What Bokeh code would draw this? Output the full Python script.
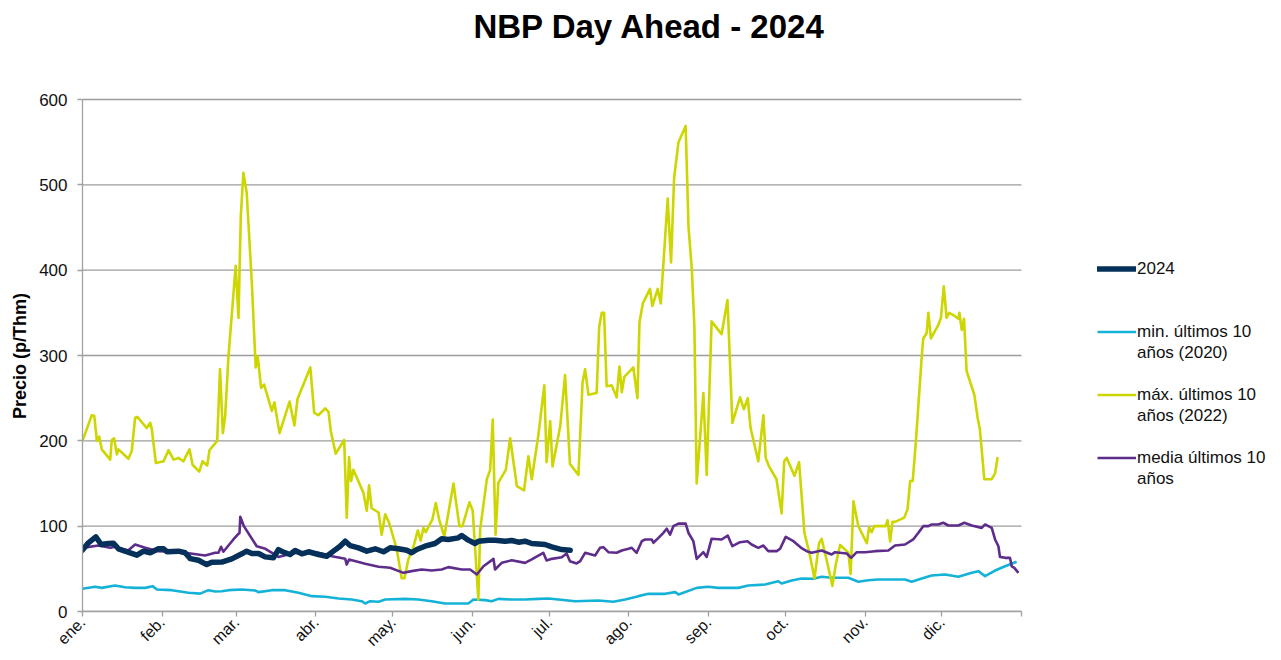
import math
from bokeh.plotting import figure
from bokeh.models import Range1d, FixedTicker, Legend, LegendItem, Label
from bokeh.embed import file_html
from bokeh.resources import INLINE

FONT = "Liberation Sans"

month_starts = [0, 31, 60, 91, 121, 152, 182, 213, 244, 274, 305, 335, 366]
month_labels = ["ene.", "feb.", "mar.", "abr.", "may.", "jun.", "jul.", "ago.", "sep.", "oct.", "nov.", "dic.", ""]
y_ticks = [0, 100, 200, 300, 400, 500, 600]
YEAR_DAYS = 366
Y_MAX = 600

# 2024
y2024_day = [0,2.3,5.2,7.3,10.1,12.1,14,18.6,21.2,23.8,26.4,29.6,31.6,32.9,37.4,40,42,45.2,48.4,50.4,54.3,58.2,62.1,64,66,68.6,71.2,74.4,76.4,78.3,80.9,82.9,85.5,88.1,92,95.2,97.8,100.4,102.4,104.3,107.6,110.8,114.1,117.3,119.9,123.1,126.4,128.3,130.3,133.5,137.4,140,142.6,146.5,147.8,150.4,153,154.3,158.2,160.8,164.7,167.3,169.9,172.5,175.1,180.3,182.9,186.8,190.1]
y2024_val = [72,80.5,87.5,78.5,79.7,80,73.5,68.8,66,70.7,68.8,73.5,73.5,70,70.7,68.8,62,60,55,57.8,58,61.7,67.6,70.7,68,68,64,62.9,72.6,69.5,66.8,71.5,67.6,70,66.8,64.8,70.7,76.5,82.4,77.3,74.6,70.7,73.5,70,74.6,73.5,71.8,68.8,72.6,76.5,79.7,85.2,84.4,86.3,89,83.6,79.7,82.4,83.6,83.6,82.4,83.2,81.2,82.4,79.7,78.5,75.8,72.6,71.8]

# min. ultimos 10 anos (2020)
min_day = [0,4.9,7.5,12.7,16.6,20.5,24.4,27.3,29,34.8,41.3,45.9,49.1,51.7,54.3,56.9,62.1,67.3,68.6,73.8,79,84.2,89.4,94.6,99.8,104.9,108.8,110.2,112.1,115.4,118,125.8,130.9,136.1,141.3,150.4,152.4,156.9,159.5,162.1,167.3,172.5,177.7,181.6,185.5,192,201.1,206.9,211.5,216.7,220.6,227.1,231,232.3,239.4,243.9,247.8,255.6,259.5,266,271.2,272.5,276.4,280.3,284.9,288.1,292,298.5,302.4,306.3,310.2,320.6,323.2,327.1,331,336.2,341.4,346.6,349.2,351.8,355.7,359.6,364.1]
min_val = [26.6,29,27.7,30.5,28.5,27.7,27.7,29.7,25.8,25,21.9,21,25,23.4,23.8,25,25.8,24.6,22.7,25,25,21.9,18,17.2,15.2,14,12.1,9.4,12.1,11.4,14,14.8,14,12.1,9.4,9.4,14,13.3,12.1,14.8,14,14,14.8,15.2,14,12.1,12.9,11.4,14,18,20.7,20.7,22.7,20,27.7,29,27.7,27.7,30.5,31.6,35.5,32.8,36.3,38.7,38.3,40.7,39.5,39.5,34.8,36.7,37.5,37.5,34.8,38.7,42.2,43.4,40.7,45.3,47.3,41.4,48,53,58.2]

# max. ultimos 10 anos (2022)
max_day = [0,3.6,4.6,5.6,6.5,7.5,10.8,11.4,12.3,13.4,14,17.9,19.2,20.5,21.4,25,26.4,27,28.6,31.6,33.5,35.5,37.4,39.4,40.3,41.7,42.9,45.5,46.8,48.6,49.5,52.5,53.6,54.7,55.6,56.9,59.7,60.8,61.7,62.7,64,66,67.5,68.3,69.6,70.8,73.8,74.8,76.8,80.7,82.6,83.8,88.8,90.3,91.9,94.6,95.9,96.8,98.7,102,103,103.9,104.7,105.6,109.5,110.8,111.7,112.7,115.4,116.6,118,119.5,122.5,124.4,125.5,127,129,130.7,131.8,132.9,133.8,136.4,137.7,139,141,144.6,146.9,148.1,150.8,152.1,154.3,155,157.6,158.9,159.9,161,162.1,165,166.7,169.3,172.1,173.8,175.1,177.7,180,180.9,182.3,183.2,186.2,188.1,190,193.3,194.9,195.9,197.2,200.4,201.4,202.4,203.3,204.3,206.3,208.2,209.3,210.2,211.2,214.7,216.3,217.1,218.4,221.2,222.1,224.2,225.4,228.1,229.4,230.6,232.3,235.1,236.2,237.5,238.5,239.4,242,243.3,245.2,249.1,251.4,253.3,256.3,257.8,259.3,260.4,263.4,265.4,266.3,267.6,270.5,272.5,273.5,274.5,277.5,279.3,281.4,283.3,285.3,287.1,288.1,290,292.3,293.6,295.3,298.5,299.4,300.5,302.4,305.7,306.6,307.6,308.6,313,313.8,314.8,315.7,316.7,320.3,321.6,322.6,323.6,324.8,327.1,327.7,329,329.7,330.7,333.6,334.6,335.7,336.8,337.8,340.1,341.4,341.8,342.7,343.6,344.6,347.6,348.9,349.8,351.5,354.4,355.7,356.7]
max_val = [200,230,229,200,205,190,178,201,203,184,190,179,188,227,228,215,221,214,174,176,189,178,180,176,182,190,172,164,176,171,189,200,284,209,229,299,405,344,463,514,491,385,286,299,262,266,235,245,209,246,218,249,286,233,230,238,234,211,185,201,110,181,153,166,139,118,148,121,116,90,114,104,73,39,39,61,76,95,83,98,93,108,127,108,88,150,100,100,128,118,14,96,155,166,225,90,151,166,203,147,142,182,155,207,265,175,223,170,217,277,173,160,268,284,254,256,334,350,350,264,265,251,287,257,275,286,250,339,361,378,358,378,361,484,409,508,550,569,451,401,334,150,256,160,340,325,365,221,251,237,250,215,176,230,180,170,155,115,176,180,159,175,92,69,39,80,85,61,30,55,78,69,44,129,100,80,99,93,100,100,107,82,105,105,110,120,153,153,198,298,320,326,350,320,336,344,381,344,350,346,343,350,330,343,282,254,227,213,155,155,162,181]

# media ultimos 10 anos
avg_day = [0,6.2,10.8,12.7,15.3,17.9,20.5,24.4,29.6,34.8,40,47.8,51.7,53,54,54.9,58.8,60.5,61.2,61.5,62.9,67.9,71.3,76.4,81.6,86.8,92,97.2,102.4,103,103.9,110.2,115.4,119.9,125.1,128.3,132.2,136.1,140,142.6,147.8,151.1,153.7,156.3,160.2,160.8,163.4,167.3,172.5,175.1,179.6,180.9,182.9,186.8,188.7,190,192.6,194,195.9,199.8,201.7,203,205,208.2,210.2,212.8,214.1,216,218,219.3,221.9,222.5,224.5,226.4,227.7,229,230.3,232.3,235.1,236.2,238.1,239.4,242,243.3,245.2,249.1,251.5,253.3,256.3,259.2,260.8,263.4,265.4,267.3,270.6,271.9,274.1,277.1,280.1,282.3,284.2,288.1,292,293.3,297.9,299.6,301.8,305,308.9,314.1,316.7,320.6,323.8,325.8,327.7,329.7,331,333.6,335.5,337.5,341.4,343.7,346.6,350.5,351.8,354.4,355.7,357,357.6,359.6,361.5,362.2,363.2,364.8]
avg_val = [74.6,77.3,74.6,75.8,72.6,71.8,78.5,74.6,70.7,70,68.8,65.6,68.8,68.8,75.8,70,84.4,90.2,92,111,100,76.5,73.5,64,68,69.5,68.8,64.8,61.7,55,61,55.9,52.4,51.2,45.3,47.3,49.2,48,49.2,52,49.2,49.2,43.4,53,61.7,49.2,57,60,57,61,68.8,59.8,61.7,63.6,68,59,56.3,59,68.8,65.6,74.6,75.4,69.5,68.8,71.5,73.5,74.6,68.8,82.4,84.4,84.4,80.5,86.3,92.2,97,90,100,103,103,92,82.4,61.7,69.5,64,85.2,84.4,89,76.5,81.2,82.4,78.5,74.6,77.3,70.7,70.7,73.5,87.5,82.4,74.6,70.7,68.8,71.5,66.8,69.5,68,62.9,69.5,69.5,70.7,71.5,77.3,78.5,84.4,92.2,100,100,102,102,104,100.8,100.8,104,100.8,98,102,98,84.4,76.5,64,62.9,62.9,53,51.2,45.3]

# legend rows (first line of each entry, its continuation, blank spacer rows)
legend_rows = ["2024", " ", " ",
               "min. últimos 10", "años (2020)", " ",
               "máx. últimos 10", "años (2022)", " ",
               "media últimos 10", "años"]
title_text = "NBP Day Ahead - 2024"
y_label = "Precio (p/Thm)"

C_NAVY = "#05305a"
C_CYAN = "#15b2d8"
C_YEL = "#cdd600"
C_PUR = "#5e2d8c"
C_GRID = "#9c9c9c"

# geometry: the data area (366 days x 600) is 939 x 512 px; the frame is
# extended to the right and upward so the legend and title sit inside it.
PX_X = 939 / YEAR_DAYS
PX_Y = 512 / Y_MAX
FRAME_W, FRAME_H = 1192, 606

p = figure(frame_width=FRAME_W, frame_height=FRAME_H,
           x_range=Range1d(0, FRAME_W / PX_X), y_range=Range1d(0, FRAME_H / PX_Y),
           output_backend="svg", toolbar_location=None,
           min_border_left=82, min_border_right=0, min_border_top=5, min_border_bottom=48)

p.outline_line_color = None
p.background_fill_color = "white"
p.border_fill_color = "white"
p.xgrid.visible = False
p.ygrid.visible = False

# horizontal gridlines across the year only
p.segment(x0=[0] * len(y_ticks), x1=[YEAR_DAYS] * len(y_ticks), y0=y_ticks, y1=y_ticks,
          line_color=C_GRID, line_width=1.3)

# axes
p.yaxis.ticker = FixedTicker(ticks=y_ticks)
p.xaxis.ticker = FixedTicker(ticks=month_starts)
p.xaxis.bounds = (0, YEAR_DAYS)
p.yaxis.bounds = (0, Y_MAX)
p.xaxis.major_label_overrides = {m: l for m, l in zip(month_starts, month_labels)}
p.xaxis.major_label_orientation = math.pi / 4
for ax in (p.xaxis, p.yaxis):
    ax.axis_line_color = "#a0a0a0"
    ax.axis_line_width = 1.3
    ax.major_tick_line_color = "#a0a0a0"
    ax.major_tick_line_width = 1.3
    ax.major_tick_out = 5
    ax.major_tick_in = 0
    ax.minor_tick_line_color = None
    ax.major_label_text_font = FONT
    ax.major_label_text_color = "#111111"
p.yaxis.major_label_text_font_size = "17px"
p.xaxis.major_label_text_font_size = "16px"
p.yaxis.major_label_standoff = 10
p.xaxis.major_label_standoff = 3
# the label is centred on the (taller) frame; trailing no-break spaces move the
# visible words down to the middle of the 0-600 axis
p.yaxis.axis_label = y_label + "\u00a0" * 19
p.yaxis.axis_label_text_font = FONT
p.yaxis.axis_label_text_font_style = "bold"
p.yaxis.axis_label_text_font_size = "18px"
p.yaxis.axis_label_text_color = "#000000"
p.yaxis.axis_label_standoff = 6

r_min = p.line(min_day, min_val, line_color=C_CYAN, line_width=2.6, line_join="round")
r_max = p.line(max_day, max_val, line_color=C_YEL, line_width=2.6, line_join="round")
r_avg = p.line(avg_day, avg_val, line_color=C_PUR, line_width=2.6, line_join="round")
r_24 = p.line(y2024_day, y2024_val, line_color=C_NAVY, line_width=5.5, line_join="round", line_cap="round")
r_blank = p.line([0], [0], line_alpha=0)

row_renderers = [r_24, r_blank, r_blank,
                 r_min, r_blank, r_blank,
                 r_max, r_blank, r_blank,
                 r_avg, r_blank]
legend = Legend(items=[LegendItem(label=t, renderers=[r]) for t, r in zip(legend_rows, row_renderers)],
                location=(1015, 122), orientation="vertical", padding=0, margin=0, spacing=0,
                glyph_width=39, glyph_height=21, label_height=21, label_standoff=1,
                border_line_color=None, background_fill_alpha=0,
                label_text_font=FONT, label_text_font_size="17px", label_text_color="#111111")
p.add_layout(legend)

# chart title (centred on the page near the top)
p.add_layout(Label(x=567 / PX_X, y=585 / PX_Y, text=title_text, text_font=FONT,
                   text_font_style="bold", text_font_size="33px", text_color="#000000",
                   text_align="center", text_baseline="alphabetic"))

open("out.html", "w").write(file_html(p, INLINE))
